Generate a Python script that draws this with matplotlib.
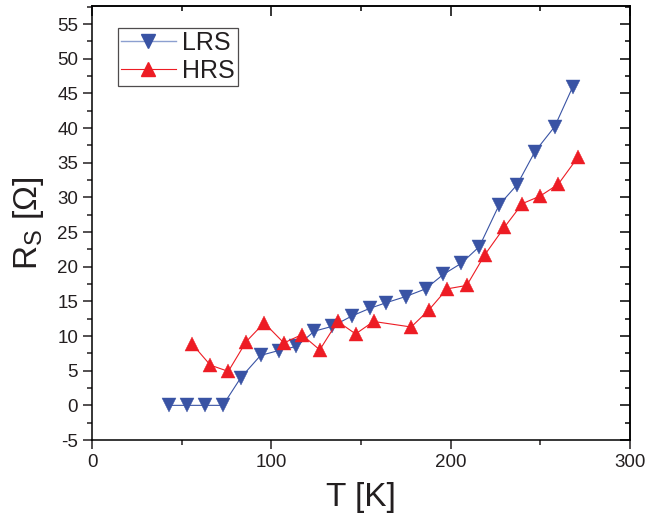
import matplotlib
matplotlib.use("Agg")
import matplotlib.pyplot as plt
from matplotlib.ticker import MultipleLocator
from matplotlib.lines import Line2D

plt.rcParams['font.family'] = ['Liberation Sans', 'DejaVu Sans']
plt.rcParams['axes.unicode_minus'] = False

lrs_T = [43, 53, 63, 73, 83, 94, 104, 114, 124, 134, 145, 155, 164, 175, 186,
         196, 206, 216, 227, 237, 247, 258, 268]
lrs_R = [0, 0, 0, 0, 4.0, 7.2, 7.9, 8.5, 10.7, 11.4, 12.9, 14.0, 14.8, 15.7, 16.8,
         18.9, 20.5, 22.9, 28.9, 31.8, 36.6, 40.2, 45.9]

hrs_T = [56, 66, 76, 86, 96, 107, 117, 127, 137, 147, 157, 178, 188, 198, 209,
         219, 230, 240, 250, 260, 271]
hrs_R = [8.8, 5.8, 4.9, 9.2, 11.9, 9.0, 10.2, 8.0, 12.1, 10.3, 12.1, 11.3, 13.8,
         16.8, 17.3, 21.7, 25.7, 29.1, 30.2, 31.9, 35.8]

blue = '#3953a4'
red = '#ed1c24'

fig = plt.figure(figsize=(6.47, 5.19), dpi=100)
ax = fig.add_axes([0.1422, 0.1522, 0.8315, 0.8362])

ax.plot(lrs_T, lrs_R, color=blue, lw=0.8, marker='v', ms=10, mfc=blue, mec=blue, mew=0.3)
ax.plot(hrs_T, hrs_R, color=red, lw=0.8, marker='^', ms=10, mfc=red, mec=red, mew=0.3)

ax.set_xlim(0, 300)
ax.set_ylim(-5, 57.6)
ax.xaxis.set_major_locator(MultipleLocator(100))
ax.xaxis.set_minor_locator(MultipleLocator(50))
ax.yaxis.set_major_locator(MultipleLocator(5))
ax.yaxis.set_minor_locator(MultipleLocator(2.5))

for s in ax.spines.values():
    s.set_linewidth(1.1)

ax.tick_params(which='both', direction='out', width=1.1, labelsize=13.5, colors='#231f20',
               top=False, right=False)
ax.tick_params(which='major', length=6.5)
ax.tick_params(which='minor', length=3.5)

secx = ax.secondary_xaxis('top')
secx.xaxis.set_major_locator(MultipleLocator(100))
secx.xaxis.set_minor_locator(MultipleLocator(50))
secx.tick_params(which='both', direction='in', width=1.1, labeltop=False)
secx.tick_params(which='major', length=7)
secx.tick_params(which='minor', length=3.5)
secx.spines['top'].set_linewidth(1.1)

secy = ax.secondary_yaxis('right')
secy.yaxis.set_major_locator(MultipleLocator(5))
secy.yaxis.set_minor_locator(MultipleLocator(2.5))
secy.tick_params(which='both', direction='in', width=1.1, labelright=False)
secy.tick_params(which='major', length=7)
secy.tick_params(which='minor', length=3.5)
secy.spines['right'].set_linewidth(1.1)

ax.set_xlabel('T [K]', fontsize=24, color='#231f20', labelpad=8)
ax.set_ylabel(r'R$_\mathregular{S}$ [Ω]', fontsize=24, color='#231f20', labelpad=8)

handles = [
    Line2D([], [], color='#8c9fd0', lw=1.0, marker='v', ms=10, mfc=blue, mec=blue),
    Line2D([], [], color=red, lw=0.8, marker='^', ms=10, mfc=red, mec=red),
]
leg = ax.legend(handles, ['LRS', 'HRS'], loc='upper left', bbox_to_anchor=(0.048, 0.949),
                borderaxespad=0, fontsize=18, frameon=True, fancybox=False,
                handlelength=2.2, handletextpad=0.25, borderpad=0.12, labelspacing=0.15)
leg.get_frame().set_edgecolor('#231f20')
leg.get_frame().set_linewidth(0.9)
for t in leg.get_texts():
    t.set_color('#231f20')

fig.savefig('out.png', dpi=100)
